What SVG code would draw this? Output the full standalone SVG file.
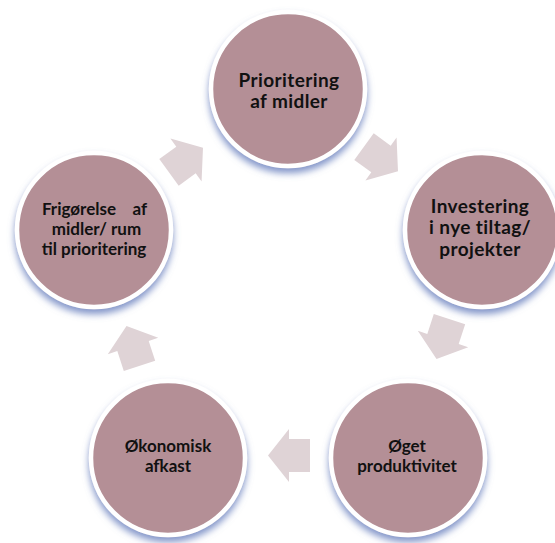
<svg xmlns="http://www.w3.org/2000/svg" width="555" height="543" viewBox="0 0 555 543">
<defs>
<filter id="sh" x="-25%" y="-25%" width="150%" height="160%">
<feGaussianBlur in="SourceAlpha" stdDeviation="3.5" result="b"/>
<feOffset in="b" dy="5" result="o"/>
<feFlood flood-color="#6e84c0" flood-opacity="0.85"/>
<feComposite in2="o" operator="in" result="s"/>
<feMerge><feMergeNode in="s"/><feMergeNode in="SourceGraphic"/></feMerge>
</filter>
<path id="arr" d="M-21,-16.5 H0 V-26.5 L21,0 L0,26.5 V16.5 H-21 Z"/>
</defs>
<style>
.node circle{fill:#b48f96;stroke:#ffffff;stroke-width:4.5;filter:url(#sh)}
.node text{font-family:Lato,"Open Sans","Liberation Sans",sans-serif;font-weight:bold;fill:#111111;text-anchor:middle}
.big{font-size:19px;letter-spacing:0.4px}
.small{font-size:17px}
.conn use{fill:#dfd3d6}
</style>
<rect width="555" height="543" fill="#ffffff"/>
<g id="connectors" class="conn">
<use href="#arr" transform="translate(381,159) rotate(36)"/>
<use href="#arr" transform="translate(443,339) rotate(108)"/>
<use href="#arr" transform="translate(289,455.5) rotate(180)"/>
<use href="#arr" transform="translate(133,346) rotate(252)"/>
<use href="#arr" transform="translate(186,160) rotate(-36)"/>
</g>
<g id="node-prioritering" class="node">
<circle cx="288" cy="89" r="77"/>
<text class="big"><tspan x="289" y="86.5">Prioritering</tspan><tspan x="289" y="107.5">af midler</tspan></text>
</g>
<g id="node-investering" class="node">
<circle cx="482" cy="230" r="77"/>
<text class="big"><tspan x="480" y="212.5">Investering</tspan><tspan x="480" y="234">i nye tiltag/</tspan><tspan x="480" y="255.5">projekter</tspan></text>
</g>
<g id="node-produktivitet" class="node">
<circle cx="408" cy="458" r="77"/>
<text class="small"><tspan x="407" y="452">Øget</tspan><tspan x="407" y="471.5">produktivitet</tspan></text>
</g>
<g id="node-afkast" class="node">
<circle cx="168" cy="458" r="77"/>
<text class="small"><tspan x="168" y="451.5">Økonomisk</tspan><tspan x="168" y="472">afkast</tspan></text>
</g>
<g id="node-frigoerelse" class="node">
<circle cx="94" cy="230" r="77"/>
<text class="small" xml:space="preserve"><tspan x="94.5" y="215">Frigørelse    af</tspan><tspan x="96.5" y="235">midler/ rum</tspan><tspan x="94" y="254.5">til prioritering</tspan></text>
</g>
</svg>
